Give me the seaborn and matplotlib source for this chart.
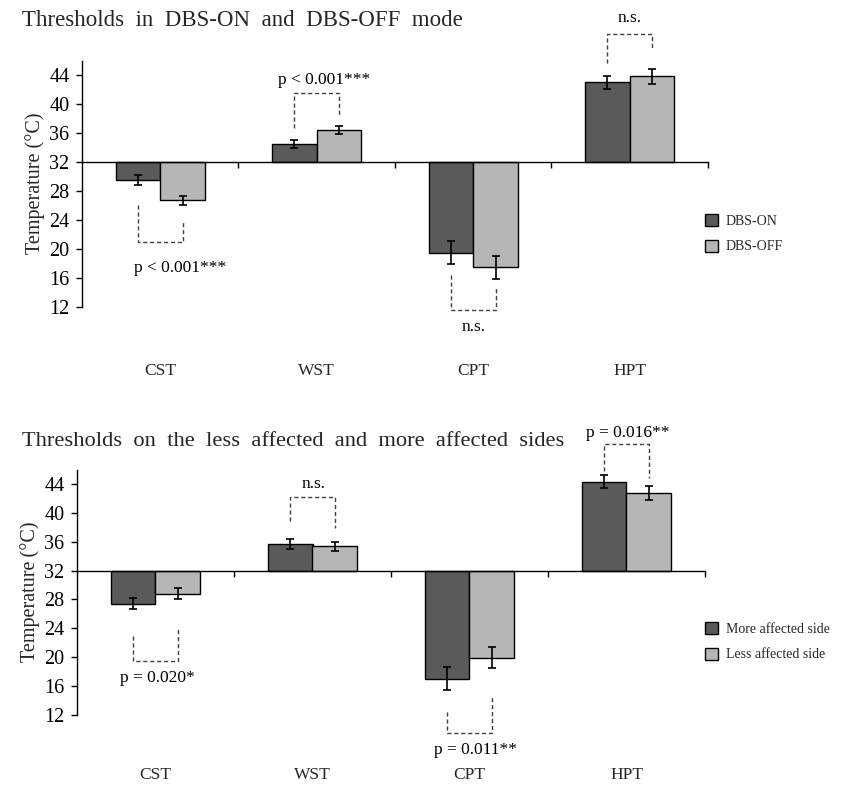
import numpy as np
import pandas as pd
import matplotlib
matplotlib.use("Agg")
import matplotlib.pyplot as plt
import seaborn as sns
from matplotlib.patches import Patch

# ---------------- data ----------------
tests = ["CST", "WST", "CPT", "HPT"]

dbs_groups = ["DBS-ON", "DBS-OFF"]
dbs_on = [29.5, 34.5, 19.5, 43.0]
dbs_on_err = [0.7, 0.6, 1.6, 0.9]
dbs_off = [26.7, 36.4, 17.5, 43.8]
dbs_off_err = [0.6, 0.6, 1.6, 1.0]

side_groups = ["More affected side", "Less affected side"]
more_aff = [27.4, 35.7, 17.0, 44.4]
more_aff_err = [0.75, 0.65, 1.55, 0.9]
less_aff = [28.8, 35.4, 19.9, 42.8]
less_aff_err = [0.8, 0.65, 1.5, 1.0]

yticks = [12, 16, 20, 24, 28, 32, 36, 40, 44]
baseline = 32

top_pvals = ["p < 0.001***", "p < 0.001***", "n.s.", "n.s."]
bottom_pvals = ["p = 0.020*", "n.s.", "p = 0.011**", "p = 0.016**"]

titles = ["Thresholds  in  DBS-ON  and  DBS-OFF  mode",
          "Thresholds  on  the  less  affected  and  more  affected  sides"]
ylabels = ["Temperature (\u00b0C)", "Temperature\u2009(\u00b0C)"]

# annotation geometry: (horizontal y, left end y, right end y, text y, text dx)
top_brackets = [(21.0, 26.1, 24.0, 17.4, 0.13),
                (41.5, 36.7, 38.5, 43.3, 0.05),
                (11.6, 16.4, 14.6, 9.2, 0.0),
                (49.7, 45.7, 47.4, 51.9, 0.0)]
bottom_brackets = [(19.5, 22.95, 24.2, 17.1, 0.01),
                   (42.25, 38.9, 38.0, 44.05, 0.01),
                   (9.4, 12.3, 14.4, 7.0, 0.04),
                   (49.6, 45.9, 44.9, 51.2, 0.01)]

DARK = "#5a5a5a"
LIGHT = "#b6b6b6"
FONT = "Liberation Serif"

sns.set_theme(style="white")
plt.rcParams["font.family"] = [FONT, "DejaVu Serif"]

W, H = 845, 793
fig = plt.figure(figsize=(W / 100, H / 100), dpi=100)


def panel(ax, groups, v1, e1, v2, e2, pvals, brackets, ylabel, label_y):
    df = pd.DataFrame({
        "test": tests * 2,
        "group": [groups[0]] * len(tests) + [groups[1]] * len(tests),
        "delta": [v - baseline for v in v1 + v2],
    })
    sns.barplot(data=df, x="test", y="delta", hue="group", order=tests,
                hue_order=groups, palette=[DARK, LIGHT], width=0.57,
                bottom=baseline, edgecolor="black", linewidth=1.0,
                errorbar=None, legend=False, ax=ax)
    errs = e1 + e2
    centers = []
    for p, e in zip(ax.patches, errs):
        xc = p.get_x() + p.get_width() / 2
        top = p.get_y() + p.get_height()
        centers.append(xc)
        ax.errorbar(xc, top, yerr=e, fmt="none", ecolor="black",
                    elinewidth=1.2, capsize=2.8, capthick=1.2, zorder=5)
    n = len(tests)
    for i in range(n):
        xl, xr = centers[i], centers[i + n]
        yh, yl, yr, ty, dx = brackets[i]
        ax.plot([xl, xl, xr, xr], [yl, yh, yh, yr], color="0.25", lw=1.0,
                ls=(0, (3, 2)), clip_on=False, zorder=4)
        ax.text(i + dx, ty, pvals[i], ha="center", va="center",
                fontsize=12.5, color="black", clip_on=False)
    ax.set_xlim(-0.5, len(tests) - 0.5)
    ax.set_ylim(12, 46)
    ax.set_yticks(yticks)
    ax.set_yticklabels([str(t) for t in yticks], fontsize=14.5)
    ax.set_xticks([i + 0.5 for i in range(len(tests))])
    ax.set_xticklabels([])
    ax.set_xlabel("")
    ax.set_ylabel(ylabel, fontsize=14.5, labelpad=3)
    for s in ["top", "right"]:
        ax.spines[s].set_visible(False)
    ax.spines["bottom"].set_position(("data", baseline))
    for s in ["left", "bottom"]:
        ax.spines[s].set_color("black")
        ax.spines[s].set_linewidth(1.0)
    ax.spines["left"].set_bounds(12, 46)
    ax.tick_params(axis="y", direction="out", length=4, width=1, pad=5,
                   colors="black", left=True)
    ax.tick_params(axis="x", direction="out", length=4, width=1,
                   colors="black", bottom=True)
    ax.grid(False)
    for i, t in enumerate(tests):
        ax.text(i, label_y, t, transform=ax.get_xaxis_transform(),
                ha="center", va="center", fontsize=12.5)


ax1 = fig.add_axes([82 / W, 1 - 307 / H, 626 / W, 246.5 / H])
panel(ax1, dbs_groups, dbs_on, dbs_on_err, dbs_off, dbs_off_err,
      top_pvals, top_brackets, ylabels[0], -0.26)

ax2 = fig.add_axes([77 / W, 1 - 714.5 / H, 628 / W, 244.5 / H])
panel(ax2, side_groups, more_aff, more_aff_err, less_aff, less_aff_err,
      bottom_pvals, bottom_brackets, ylabels[1], -0.247)

fig.text(22 / W, 1 - 20 / H, titles[0], ha="left", va="center", fontsize=16.5)
fig.text(22 / W, 1 - 442 / H, titles[1], ha="left", va="center", fontsize=16.2)


def legend(groups, top_px):
    handles = [Patch(facecolor=DARK, edgecolor="black", lw=1.0),
               Patch(facecolor=LIGHT, edgecolor="black", lw=1.0)]
    fig.legend(handles, groups, loc="upper left",
               bbox_to_anchor=(705 / W, 1 - top_px / H),
               frameon=False, fontsize=10, handlelength=0.95,
               handleheight=0.95, labelspacing=0.85, handletextpad=0.55,
               borderpad=0, borderaxespad=0)


legend(dbs_groups, 214)
legend(side_groups, 622)

fig.savefig("out.png", dpi=100)
